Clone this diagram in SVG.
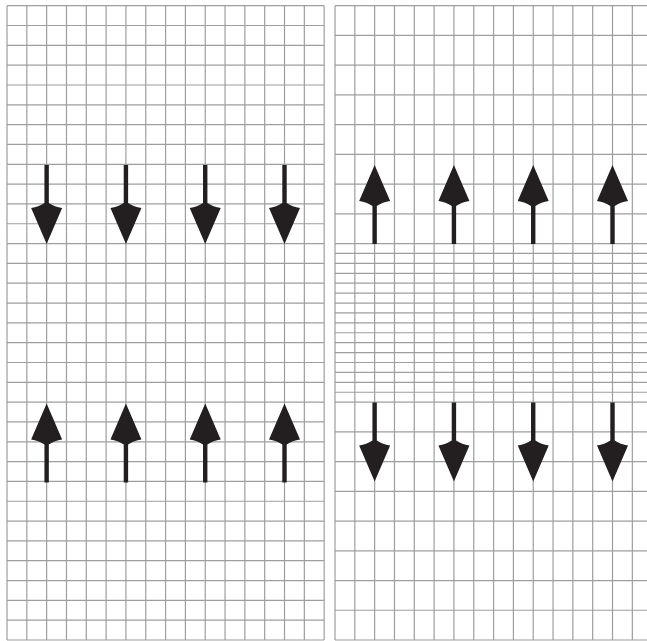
<svg xmlns="http://www.w3.org/2000/svg" xmlns:xlink="http://www.w3.org/1999/xlink" width="647" height="641" viewBox="0 0 647 641">
<style>
.grid{fill:none;stroke:#9e9e9e;stroke-width:1.2}
.arr{fill:#231f20}
</style>
<defs>
<path id="arrowUp" d="M0,0 L15.5,36 Q8,37 2.2,41 V79 H-2.2 V41 Q-8,37 -15.5,36 Z"/>
</defs>
<rect width="647" height="641" fill="#ffffff"/>
<g id="left-panel">
<path class="grid" d="M7,5.7 V640 M26.82,5.7 V640 M46.64,5.7 V640 M66.47,5.7 V640 M86.29,5.7 V640 M106.11,5.7 V640 M125.93,5.7 V640 M145.75,5.7 V640 M165.58,5.7 V640 M185.4,5.7 V640 M205.22,5.7 V640 M225.04,5.7 V640 M244.86,5.7 V640 M264.69,5.7 V640 M284.51,5.7 V640 M304.33,5.7 V640 M324.15,5.7 V640"/>
<path class="grid" d="M7,5.7 H324.15 M7,25.52 H324.15 M7,45.34 H324.15 M7,65.17 H324.15 M7,84.99 H324.15 M7,104.81 H324.15 M7,124.63 H324.15 M7,144.45 H324.15 M7,164.28 H324.15 M7,184.1 H324.15 M7,203.92 H324.15 M7,223.74 H324.15 M7,243.56 H324.15 M7,263.39 H324.15 M7,283.21 H324.15 M7,303.03 H324.15 M7,322.85 H324.15 M7,342.67 H324.15 M7,362.5 H324.15 M7,382.32 H324.15 M7,402.14 H324.15 M7,421.96 H324.15 M7,441.78 H324.15 M7,461.61 H324.15 M7,481.43 H324.15 M7,501.25 H324.15 M7,521.07 H324.15 M7,540.89 H324.15 M7,560.72 H324.15 M7,580.54 H324.15 M7,600.36 H324.15 M7,620.18 H324.15 M7,640 H324.15"/>
</g>
<g id="right-panel">
<path class="grid" d="M335,5.7 V640 M354.82,5.7 V640 M374.64,5.7 V640 M394.47,5.7 V640 M414.29,5.7 V640 M434.11,5.7 V640 M453.93,5.7 V640 M473.75,5.7 V640 M493.58,5.7 V640 M513.4,5.7 V640 M533.22,5.7 V640 M553.04,5.7 V640 M572.86,5.7 V640 M592.69,5.7 V640 M612.51,5.7 V640 M632.33,5.7 V640"/>
<path class="grid" d="M335,5.7 H647 M335,35.43 H647 M335,65.17 H647 M335,94.9 H647 M335,124.63 H647 M335,154.37 H647 M335,184.1 H647 M335,213.83 H647 M335,243.56 H647 M335,253.47 H647 M335,263.39 H647 M335,273.3 H647 M335,283.21 H647 M335,293.12 H647 M335,303.03 H647 M335,312.94 H647 M335,322.85 H647 M335,332.76 H647 M335,342.67 H647 M335,352.58 H647 M335,362.5 H647 M335,372.41 H647 M335,382.32 H647 M335,392.23 H647 M335,402.14 H647 M335,431.87 H647 M335,461.61 H647 M335,491.34 H647 M335,521.07 H647 M335,550.81 H647 M335,580.54 H647 M335,610.27 H647 M335,640 H647"/>
</g>
<g id="left-arrows-down" class="arr">
<use xlink:href="#arrowUp" href="#arrowUp" transform="translate(46.64,244) rotate(180)"/>
<use xlink:href="#arrowUp" href="#arrowUp" transform="translate(125.93,244) rotate(180)"/>
<use xlink:href="#arrowUp" href="#arrowUp" transform="translate(205.22,244) rotate(180)"/>
<use xlink:href="#arrowUp" href="#arrowUp" transform="translate(284.51,244) rotate(180)"/>
</g>
<g id="left-arrows-up" class="arr">
<use xlink:href="#arrowUp" href="#arrowUp" transform="translate(46.64,403.5)"/>
<use xlink:href="#arrowUp" href="#arrowUp" transform="translate(125.93,403.5)"/>
<use xlink:href="#arrowUp" href="#arrowUp" transform="translate(205.22,403.5)"/>
<use xlink:href="#arrowUp" href="#arrowUp" transform="translate(284.51,403.5)"/>
</g>
<g id="right-arrows-up" class="arr">
<use xlink:href="#arrowUp" href="#arrowUp" transform="translate(374.64,165)"/>
<use xlink:href="#arrowUp" href="#arrowUp" transform="translate(453.93,165)"/>
<use xlink:href="#arrowUp" href="#arrowUp" transform="translate(533.22,165)"/>
<use xlink:href="#arrowUp" href="#arrowUp" transform="translate(612.51,165)"/>
</g>
<g id="right-arrows-down" class="arr">
<use xlink:href="#arrowUp" href="#arrowUp" transform="translate(374.64,481.5) rotate(180)"/>
<use xlink:href="#arrowUp" href="#arrowUp" transform="translate(453.93,481.5) rotate(180)"/>
<use xlink:href="#arrowUp" href="#arrowUp" transform="translate(533.22,481.5) rotate(180)"/>
<use xlink:href="#arrowUp" href="#arrowUp" transform="translate(612.51,481.5) rotate(180)"/>
</g>
</svg>
